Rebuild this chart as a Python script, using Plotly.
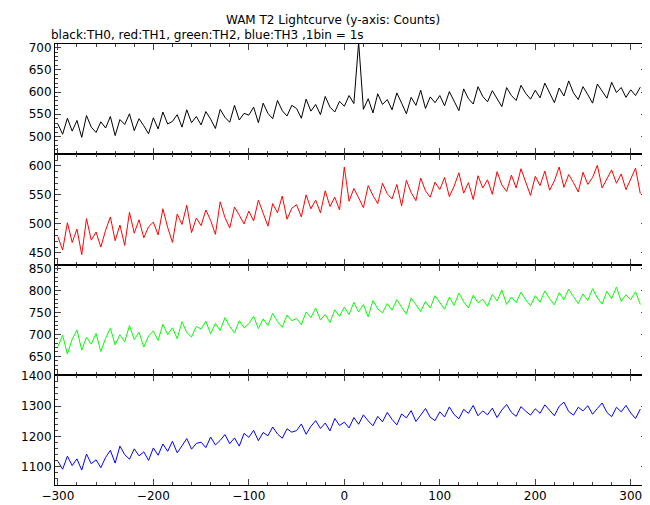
import numpy as np
import plotly.graph_objects as go
from plotly.subplots import make_subplots

# time bins (s), 5 s sampling of the 1 s curve
t = list(range(-300, 311, 5))

th0 = [528,505,541,512,536,498,547,521,509,533,
       519,545,502,538,527,551,513,540,524,506,
       542,517,555,528,534,549,521,560,531,545,
       526,556,539,518,561,543,532,570,537,552,
       548,566,531,575,552,540,581,558,546,570,
       563,541,584,557,572,549,590,566,555,579,
       568,592,574,712,561,585,553,596,572,583,
       560,598,575,551,588,570,604,563,589,576,
       592,569,601,580,558,607,585,573,612,590,
       578,603,586,567,610,592,581,615,597,584,
       604,587,620,596,576,609,591,625,598,583,
       612,594,575,618,601,586,622,599,610,588,
       605,592,611]
th1 = [478,455,502,468,491,447,509,472,486,460,
       489,512,471,498,463,520,484,507,476,495,
       503,481,526,494,468,517,499,532,485,510,
       497,524,506,482,538,511,493,529,515,500,
       522,505,541,517,496,535,519,548,508,527,
       533,512,550,526,541,519,557,530,546,524,
       598,539,561,545,528,566,549,535,570,552,
       543,568,531,575,554,540,579,557,546,572,
       559,580,547,565,588,553,571,542,583,562,
       576,551,590,567,556,584,562,595,570,549,
       582,566,591,558,574,598,563,585,571,555,
       589,568,580,601,562,577,593,570,586,559,
       578,596,552]
th2 = [672,698,655,689,710,664,693,678,702,661,
       691,714,676,699,683,720,688,705,671,696,
       708,686,723,699,715,690,729,704,694,718,
       712,730,701,725,709,738,718,703,731,715,
       724,741,713,735,720,748,729,716,744,731,
       736,722,751,738,760,733,745,727,756,741,
       762,745,773,751,768,740,777,758,749,770,
       755,779,762,746,783,767,752,775,760,788,
       771,757,785,766,794,774,760,789,772,780,
       764,791,776,801,768,785,772,796,779,765,
       788,773,799,781,767,795,779,803,786,770,
       792,777,804,783,769,798,781,808,775,790,
       779,797,768]
th3 = [1118,1092,1135,1104,1126,1089,1142,1110,1123,1097,
       1131,1154,1112,1168,1140,1125,1159,1136,1149,1121,
       1162,1138,1175,1151,1184,1146,1169,1193,1158,1177,
       1181,1163,1198,1172,1187,1206,1176,1195,1168,1210,
       1197,1220,1186,1213,1202,1231,1208,1194,1225,1214,
       1219,1241,1207,1233,1252,1226,1244,1218,1259,1236,
       1247,1228,1262,1240,1271,1251,1235,1266,1248,1279,
       1256,1238,1274,1261,1285,1249,1270,1292,1263,1252,
       1281,1264,1297,1272,1258,1289,1276,1302,1268,1284,
       1271,1293,1262,1287,1305,1279,1266,1298,1283,1270,
       1291,1276,1304,1285,1268,1299,1313,1282,1270,1296,
       1284,1301,1273,1292,1310,1279,1265,1296,1281,1302,
       1277,1259,1290]

series = [th0, th1, th2, th3]
colors = ["black", "red", "#00ff00", "blue"]
yranges = [[460, 708], [430, 620], [608, 859], [1040, 1403]]
ydticks = [50, 50, 50, 100]

fig = make_subplots(rows=4, cols=1, shared_xaxes=True, vertical_spacing=0)
for i, (y, c) in enumerate(zip(series, colors)):
    fig.add_trace(go.Scatter(x=t, y=y, mode="lines", line=dict(color=c, width=1),
                             showlegend=False), row=i + 1, col=1)
    fig.update_yaxes(range=yranges[i], dtick=ydticks[i], row=i + 1, col=1)

fig.update_xaxes(range=[-303, 317], dtick=100, showline=True, mirror="allticks", linecolor="black",
                 ticks="inside", ticklen=6, showgrid=False, zeroline=False,
                 minor=dict(ticks="inside", ticklen=3, dtick=20))
fig.update_yaxes(showline=True, mirror="allticks", linecolor="black", ticks="inside", ticklen=6,
                 showgrid=False, zeroline=False, minor=dict(ticks="inside", ticklen=3))

fig.update_layout(
    width=650, height=505, plot_bgcolor="white", paper_bgcolor="white",
    margin=dict(l=47, r=10, t=36, b=26),
    font=dict(family="DejaVu Sans", size=12, color="black"),
    title=dict(text="WAM T2 Lightcurve (y-axis: Counts)", x=0.5, xanchor="center",
               yref="container", y=0.985, yanchor="top", font=dict(size=12)),
    annotations=[
        dict(text="black:TH0, red:TH1, green:TH2, blue:TH3 ,1bin = 1s", x=-0.01, y=1.0, xref="paper",
             yref="paper", xanchor="left", yanchor="bottom", showarrow=False,
             font=dict(size=12)),
    ],
)
fig.write_html("out.html")
